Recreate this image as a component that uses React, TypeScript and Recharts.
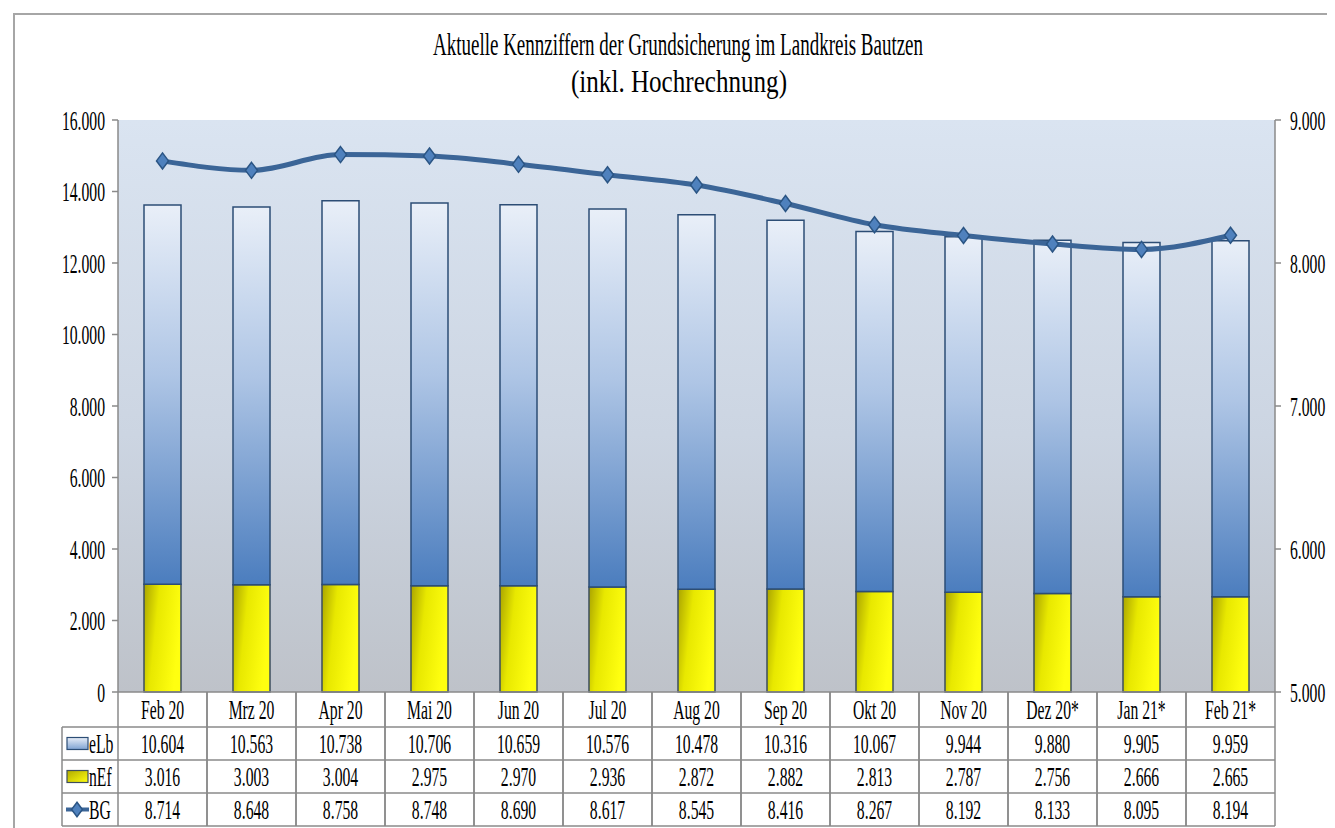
import React from 'react';
import { ComposedChart, Bar, Line, XAxis, YAxis, CartesianGrid } from 'recharts';

const categories = ['Feb 20', 'Mrz 20', 'Apr 20', 'Mai 20', 'Jun 20', 'Jul 20', 'Aug 20', 'Sep 20', 'Okt 20', 'Nov 20', 'Dez 20*', 'Jan 21*', 'Feb 21*'];
const eLbValues = [10604, 10563, 10738, 10706, 10659, 10576, 10478, 10316, 10067, 9944, 9880, 9905, 9959];
const nEfValues = [3016, 3003, 3004, 2975, 2970, 2936, 2872, 2882, 2813, 2787, 2756, 2666, 2665];
const bgValues = [8714, 8648, 8758, 8748, 8690, 8617, 8545, 8416, 8267, 8192, 8133, 8095, 8194];
const leftTicks = [0, 2000, 4000, 6000, 8000, 10000, 12000, 14000, 16000];
const rightTicks = [5000, 6000, 7000, 8000, 9000];
const seriesNames = ['eLb', 'nEf', 'BG'];
const titleLines = ['Aktuelle Kennziffern der Grundsicherung im Landkreis Bautzen', '(inkl. Hochrechnung)'];

const data = categories.map((cat, i) => ({ cat, eLb: eLbValues[i], nEf: nEfValues[i], BG: bgValues[i] }));

const W = 1327;
const H = 820;
const MARGIN_TOP = 112;
const LEFT_W = 110;
const RIGHT_W = 60;
const PLOT_L = LEFT_W;
const PLOT_R = W - RIGHT_W;
const BW = (PLOT_R - PLOT_L) / categories.length;
const HEADER_H = 35;
const ROW_H = 33;
const LEG_W = 56;
const GRID = '#8a8a8a';
const FONT = 'Liberation Serif';
const FS = 28;
const SX = 0.56;

const fmt = (v: number) => {
  const s = Math.round(v).toString();
  return s.replace(/\B(?=(\d{3})+(?!\d))/g, '.');
};

const CT = ({ x, y, anchor = 'middle', children }: any) => (
  <text
    transform={`translate(${x},${y}) scale(${SX},1)`}
    textAnchor={anchor}
    style={{ fontFamily: FONT, fontSize: FS }}
    fill="#000"
    dy="0.34em"
  >
    {children}
  </text>
);

const LeftTick = (p: any) => (
  <CT x={p.x} y={p.y} anchor="end">{fmt(p.payload.value)}</CT>
);
const RightTick = (p: any) => (
  <CT x={p.x} y={p.y} anchor="start">{fmt(p.payload.value)}</CT>
);

const Diamond = ({ cx, cy, s = 1 }: any) => (
  <polygon
    points={`${cx},${cy - 8 * s} ${cx + 6 * s},${cy} ${cx},${cy + 8 * s} ${cx - 6 * s},${cy}`}
    fill="#4f81bd"
    stroke="#2b5584"
    strokeWidth={1.5}
  />
);

const TableTick = (p: any) => {
  const { x, y, index, payload } = p;
  const rows = [eLbValues, nEfValues, bgValues];
  const x0 = x - BW / 2;
  const x1 = x + BW / 2;
  const bottom = y + HEADER_H + ROW_H * 3;
  const els: any[] = [];
  els.push(<line key="vl" x1={x0} y1={y} x2={x0} y2={bottom} stroke={GRID} strokeWidth={1.5} />);
  els.push(<line key="vr" x1={x1} y1={y} x2={x1} y2={bottom} stroke={GRID} strokeWidth={1.5} />);
  els.push(<CT key="h" x={x} y={y + HEADER_H / 2}>{payload.value}</CT>);
  rows.forEach((r, ri) => {
    els.push(
      <CT key={'r' + ri} x={x} y={y + HEADER_H + ROW_H * ri + ROW_H / 2}>{fmt(r[index])}</CT>
    );
  });
  if (index === 0) {
    const lx = PLOT_L - LEG_W;
    for (let k = 0; k <= 3; k++) {
      const yy = y + HEADER_H + ROW_H * k;
      els.push(<line key={'hl' + k} x1={lx} y1={yy} x2={PLOT_R} y2={yy} stroke={GRID} strokeWidth={1.5} />);
    }
    els.push(<line key="lv" x1={lx} y1={y + HEADER_H} x2={lx} y2={bottom} stroke={GRID} strokeWidth={1.5} />);
    const midE = y + HEADER_H + ROW_H / 2;
    const midN = midE + ROW_H;
    const midB = midN + ROW_H;
    els.push(<rect key="ie" x={lx + 5} y={midE - 6} width={21} height={12} fill="url(#gElbIcon)" stroke="#2c4d75" strokeWidth={1.2} />);
    els.push(<rect key="in" x={lx + 5} y={midN - 6} width={21} height={12} fill="url(#gNefIcon)" stroke="#3d4d5d" strokeWidth={1.2} />);
    els.push(<line key="ib" x1={lx + 4} y1={midB} x2={lx + 27} y2={midB} stroke="#3b6597" strokeWidth={4} />);
    els.push(<Diamond key="id" cx={lx + 15} cy={midB} s={0.9} />);
    [midE, midN, midB].forEach((m, k) => {
      els.push(<CT key={'lt' + k} x={lx + 27} y={m} anchor="start">{seriesNames[k]}</CT>);
    });
  }
  return <g>{els}</g>;
};

export default function App() {
  return (
    <div style={{ position: 'relative', width: W, height: H, overflow: 'hidden', background: '#fff' }}>
      <svg width={W} height={H} style={{ position: 'absolute', left: 0, top: 0 }}>
        <defs>
          <linearGradient id="plotBg" x1="0" y1="0" x2="0" y2="1">
            <stop offset="0" stopColor="#dae4f1" />
            <stop offset="0.55" stopColor="#ccd5e2" />
            <stop offset="1" stopColor="#bec2c9" />
          </linearGradient>
          <linearGradient id="gElb" x1="0" y1="0" x2="0" y2="1">
            <stop offset="0" stopColor="#e9eff8" />
            <stop offset="0.45" stopColor="#aec5e5" />
            <stop offset="1" stopColor="#4b7dbe" />
          </linearGradient>
          <linearGradient id="gNef" x1="0" y1="0" x2="1" y2="0.3">
            <stop offset="0" stopColor="#aaa400" />
            <stop offset="0.4" stopColor="#e8e800" />
            <stop offset="1" stopColor="#ffff10" />
          </linearGradient>
          <linearGradient id="gElbIcon" x1="0" y1="0" x2="0" y2="1">
            <stop offset="0" stopColor="#e9eff8" />
            <stop offset="1" stopColor="#7ea2d2" />
          </linearGradient>
          <linearGradient id="gNefIcon" x1="0" y1="0" x2="1" y2="1">
            <stop offset="0" stopColor="#b0aa00" />
            <stop offset="1" stopColor="#ffff10" />
          </linearGradient>
        </defs>
        <rect x={6} y={6} width={1400} height={900} fill="none" stroke="#a6a6a6" strokeWidth={2} />
        <text x={670} y={47} textAnchor="middle" style={{ fontFamily: FONT, fontSize: 32 }} textLength={490} lengthAdjust="spacingAndGlyphs">{titleLines[0]}</text>
        <text x={671} y={84} textAnchor="middle" style={{ fontFamily: FONT, fontSize: 32 }} textLength={216} lengthAdjust="spacingAndGlyphs">{titleLines[1]}</text>
      </svg>
      <div style={{ position: 'absolute', left: 0, top: 0 }}>
        <ComposedChart width={W} height={H} data={data} margin={{ top: MARGIN_TOP, right: 0, bottom: 0, left: 0 }}>
          <CartesianGrid yAxisId="left" horizontal={false} vertical={false} fill="url(#plotBg)" stroke="none" />
          <XAxis
            dataKey="cat"
            height={H - MARGIN_TOP - 572}
            interval={0}
            tickLine={false}
            tickSize={0}
            tickMargin={0}
            axisLine={{ stroke: GRID, strokeWidth: 1.5 }}
            tick={<TableTick />}
          />
          <YAxis
            yAxisId="left"
            width={LEFT_W}
            domain={[0, 16000]}
            ticks={leftTicks}
            interval={0}
            tickSize={6}
            tickMargin={7}
            axisLine={{ stroke: GRID, strokeWidth: 1.5 }}
            tickLine={{ stroke: GRID, strokeWidth: 1.5 }}
            tick={<LeftTick />}
          />
          <YAxis
            yAxisId="right"
            orientation="right"
            width={RIGHT_W}
            domain={[5000, 9000]}
            ticks={rightTicks}
            interval={0}
            tickSize={6}
            tickMargin={9}
            axisLine={{ stroke: GRID, strokeWidth: 1.5 }}
            tickLine={{ stroke: GRID, strokeWidth: 1.5 }}
            tick={<RightTick />}
          />
          <Bar yAxisId="left" dataKey="nEf" stackId="s" barSize={37} fill="url(#gNef)" stroke="#3d4d5d" strokeWidth={1.5} isAnimationActive={false} />
          <Bar yAxisId="left" dataKey="eLb" stackId="s" barSize={37} fill="url(#gElb)" stroke="#2c4d75" strokeWidth={1.5} isAnimationActive={false} />
          <Line
            yAxisId="right"
            dataKey="BG"
            type="monotone"
            stroke="#3b6597"
            strokeWidth={5}
            dot={(p: any) => <Diamond key={'d' + p.index} cx={p.cx} cy={p.cy} />}
            activeDot={false}
            isAnimationActive={false}
          />
        </ComposedChart>
      </div>
    </div>
  );
}
